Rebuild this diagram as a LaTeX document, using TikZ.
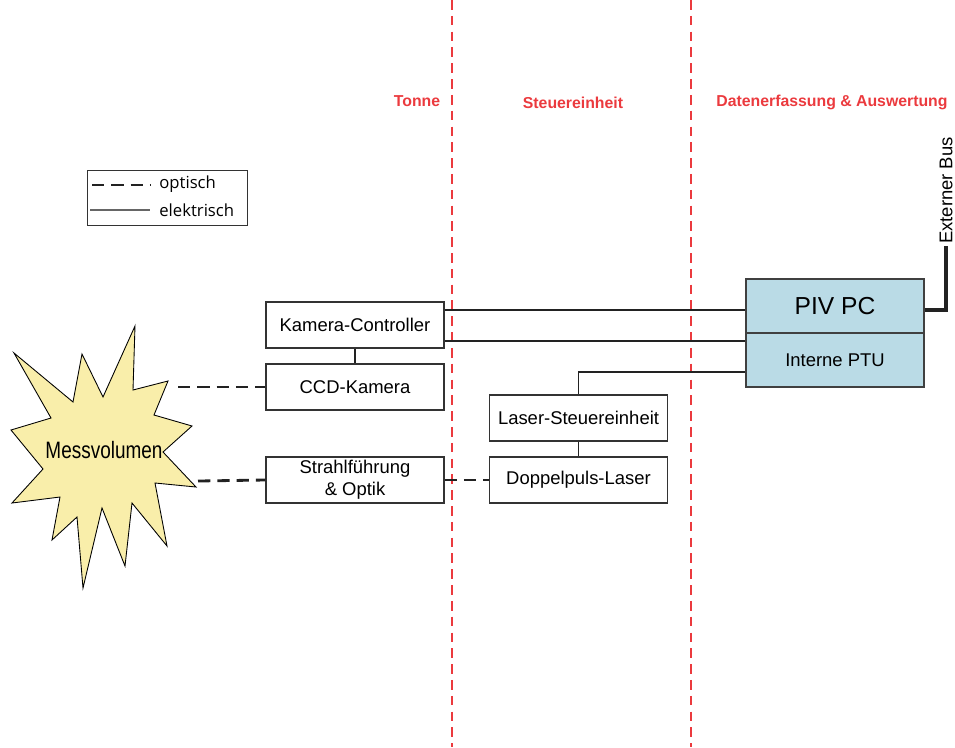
\documentclass[tikz,border=0pt]{standalone}
\usepackage{fontspec}
\setmainfont{Liberation Sans}
\newfontfamily\legendfont{Open Sans}
\usepackage{tikz}
\usetikzlibrary{arrows.meta, positioning, calc}
\definecolor{zoneRed}{HTML}{EB3A3E}
\definecolor{pcBlue}{HTML}{BADBE6}
\definecolor{starFill}{HTML}{F9EEAA}
\definecolor{wireGrey}{HTML}{222222}

\begin{document}
\begin{tikzpicture}[x=0.02cm, y=-0.02cm,
    box/.style={
        rectangle, draw=black!80, line width=0.7pt, fill=white,
        minimum width=3.56cm, minimum height=0.92cm, inner sep=1pt,
        align=center, font=\fontsize{10.5}{12.5}\selectfont,
    },
    pcbox/.style={
        rectangle, draw=black!75, line width=0.7pt, fill=pcBlue,
        minimum width=3.56cm, minimum height=1.08cm, inner sep=1pt,
        font=#1,
    },
    optical/.style={wireGrey, line width=1.6pt, dash pattern=on 7pt off 4pt},
    electric/.style={wireGrey, line width=0.6pt},
    bus/.style={wireGrey, line width=2.8pt},
    zone/.style={zoneRed, line width=1.6pt, dash pattern=on 5.5pt off 3.5pt},
    zonelabel/.style={text=zoneRed, font=\fontsize{9}{11}\selectfont\bfseries},
    legendtext/.style={font=\legendfont\fontsize{9.5}{11}\selectfont, anchor=west, inner sep=0pt},
]
\useasboundingbox (0,0) rectangle (955,747);

\def\colT{355}
\def\colS{578.5}
\def\colP{835}

% ── Zones ─────────────────────────────────────────────────────────────
\draw[zone] (452,0) -- (452,747);
\draw[zone] (691,0) -- (691,747);
\node[zonelabel] (ztonne) at (417,101) {Tonne};
\node[zonelabel] (zsteuer) at (573,103) {Steuereinheit};
\node[zonelabel] (zdaten) at (832,102) {Datenerfassung \& Auswertung};

% ── Legend ────────────────────────────────────────────────────────────
\node[draw=black!80, line width=0.6pt, minimum width=3.2cm, minimum height=1.1cm,
      anchor=north west] (legend) at (87,170) {};
\node[legendtext] (lopt) at (159,184) {optisch};
\node[legendtext] (lel)  at (159,210) {elektrisch};
\draw[optical] ($(lopt.west)+(-67,1)$) -- ($(lopt.west)+(-9,1)$);
\draw[electric, black!60] ($(lel.west)+(-69,0)$) -- ($(lel.west)+(-9,0)$);

% ── Messvolumen ───────────────────────────────────────────────────────
\draw[fill=starFill, line width=0.5pt, line join=miter]
    (135,326) -- (133,390) -- (168,381) -- (154,415) -- (192,426)
    -- (163,452) -- (196,487) -- (155,483) -- (167,546) -- (132,503)
    -- (125,566) -- (102,508) -- (83,588) -- (77,517) -- (52,540)
    -- (60,497) -- (12,503) -- (43,469) -- (11,430) -- (51,418)
    -- (14,353) -- (73,402) -- (82,354) -- (103,397) -- cycle;
\node[font=\fontsize{13.5}{15}\selectfont] (mv) at (104,450)
    {\scalebox{0.8}[1]{Messvolumen}};
\coordinate (mvcam) at (178,387);
\coordinate (mvlas) at (198,481);

% ── Tonne ─────────────────────────────────────────────────────────────
\node[box] (kc)     at (\colT,325) {Kamera-Controller};
\node[box] (ccd)    at (\colT,387) {CCD-Kamera};
\node[box] (strahl) at (\colT,480) {Strahlf\"uhrung\\\& Optik};

% ── Steuereinheit ─────────────────────────────────────────────────────
\node[box] (lse) at (\colS,418) {Laser-Steuereinheit};
\node[box] (dpl) at (\colS,480) {Doppelpuls-Laser};

% ── Datenerfassung ────────────────────────────────────────────────────
\node[pcbox=\fontsize{14}{16}\selectfont] (piv) at (\colP,306) {PIV PC};
\node[pcbox=\fontsize{10.5}{12.5}\selectfont] (ptu) at (\colP,360) {Interne PTU};
\node[rotate=90, anchor=west, inner sep=1pt, font=\fontsize{10.5}{12.5}\selectfont]
    (bus) at (946,246) {Externer Bus};

% ── Connections ───────────────────────────────────────────────────────
\draw[optical] (mvcam) -- (ccd.west);
\draw[optical] (mvlas) -- (strahl.west);
\draw[optical] (strahl.east) -- (dpl.west);

\draw[electric] (kc.south) -- (ccd.north);
\draw[electric] (lse.south) -- (dpl.north);
\coordinate (kcup) at ([yshift=0.3cm]kc.east);
\coordinate (kcdn) at ([yshift=-0.32cm]kc.east);
\coordinate (ptuin) at ([yshift=-0.24cm]ptu.west);
\draw[electric] (kcup) -- (kcup -| piv.west);
\draw[electric] (kcdn) -- (kcdn -| ptu.west);
\draw[electric] (lse.north) |- (ptuin);

\draw[bus] ([yshift=-0.08cm]piv.east) -| (bus.west);

\end{tikzpicture}
\end{document}
